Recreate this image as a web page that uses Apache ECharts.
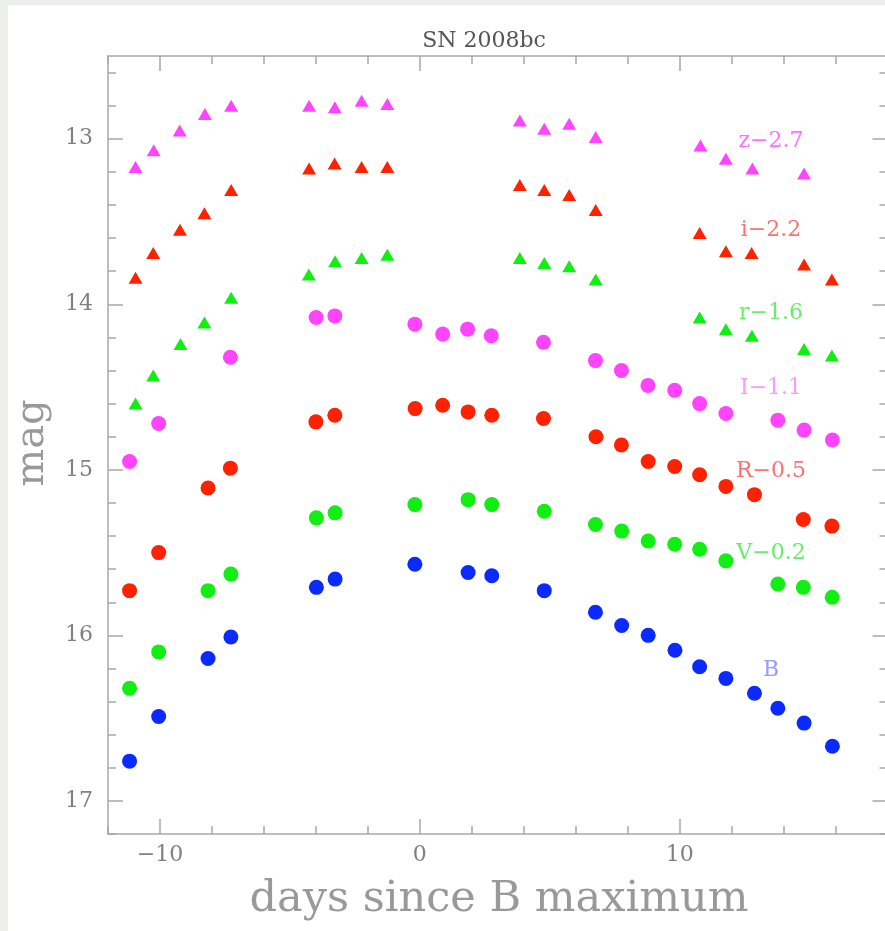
<!DOCTYPE html>
<html>
<head>
<meta charset="utf-8">
<script src="https://cdn.jsdelivr.net/npm/echarts@6/dist/echarts.min.js"></script>
<style>
  html, body { margin: 0; padding: 0; overflow: hidden; background: #eceeea; }
  #panel { position: absolute; left: 8px; top: 5px; width: 900px; height: 940px; background: #ffffff; }
  #chart { position: absolute; left: 0; top: 0; width: 890px; height: 931px; }
</style>
</head>
<body>
<div id="panel"></div>
<div id="chart"></div>
<script>
// ---- data (days since B maximum, magnitudes) ----
const bDays = [-11.17, -10.05, -8.15, -7.27, -3.98, -3.26, -0.19, 1.86, 2.77, 4.79, 6.76, 7.77, 8.79, 9.82, 10.77, 11.78, 12.88, 13.78, 14.79, 15.88];
const bMag  = [16.76, 16.49, 16.14, 16.01, 15.71, 15.66, 15.57, 15.62, 15.64, 15.73, 15.86, 15.94, 16.00, 16.09, 16.19, 16.26, 16.35, 16.44, 16.53, 16.67];

const vDays = [-11.17, -10.05, -8.15, -7.27, -3.98, -3.26, -0.19, 1.86, 2.77, 4.79, 6.76, 7.77, 8.79, 9.81, 10.77, 11.78, 13.78, 14.76, 15.87];
const vMag  = [16.32, 16.10, 15.73, 15.63, 15.29, 15.26, 15.21, 15.18, 15.21, 15.25, 15.33, 15.37, 15.43, 15.45, 15.48, 15.55, 15.69, 15.71, 15.77];

const rcDays = [-11.17, -10.05, -8.15, -7.29, -4.0, -3.27, -0.18, 0.88, 1.86, 2.77, 4.76, 6.78, 7.76, 8.79, 9.81, 10.77, 11.78, 12.88, 14.76, 15.86];
const rcMag  = [15.73, 15.50, 15.11, 14.99, 14.71, 14.67, 14.63, 14.61, 14.65, 14.67, 14.69, 14.80, 14.85, 14.95, 14.98, 15.03, 15.10, 15.15, 15.30, 15.34];

const icDays = [-11.17, -10.05, -7.29, -3.99, -3.27, -0.19, 0.88, 1.84, 2.75, 4.76, 6.76, 7.76, 8.78, 9.81, 10.77, 11.78, 13.78, 14.79, 15.88];
const icMag  = [14.95, 14.72, 14.32, 14.08, 14.07, 14.12, 14.18, 14.15, 14.19, 14.23, 14.34, 14.40, 14.49, 14.52, 14.60, 14.66, 14.70, 14.76, 14.82];

const zDays = [-10.94, -10.24, -9.24, -8.27, -7.26, -4.26, -3.27, -2.24, -1.25, 3.85, 4.79, 5.75, 6.77, 10.80, 11.78, 12.80, 14.79];
const zMag  = [13.17, 13.07, 12.95, 12.85, 12.80, 12.80, 12.81, 12.77, 12.79, 12.89, 12.94, 12.91, 12.99, 13.04, 13.12, 13.18, 13.21];

const iDays = [-10.94, -10.26, -9.23, -8.29, -7.26, -4.26, -3.28, -2.24, -1.25, 3.85, 4.79, 5.75, 6.77, 10.77, 11.78, 12.77, 14.79, 15.86];
const iMag  = [13.84, 13.69, 13.55, 13.45, 13.31, 13.18, 13.15, 13.17, 13.17, 13.28, 13.31, 13.34, 13.43, 13.57, 13.68, 13.69, 13.76, 13.85];

const rDays = [-10.94, -10.26, -9.21, -8.29, -7.26, -4.27, -3.26, -2.24, -1.25, 3.85, 4.79, 5.75, 6.77, 10.77, 11.78, 12.78, 14.79, 15.86];
const rMag  = [14.60, 14.43, 14.24, 14.11, 13.96, 13.82, 13.74, 13.72, 13.70, 13.72, 13.75, 13.77, 13.85, 14.08, 14.15, 14.19, 14.27, 14.31];

const xMajorTicks = [-10, 0, 10];
const xMinorTicks = [-12, -8, -6, -4, -2, 2, 4, 6, 8, 12, 14, 16];
const yMajorTicks = [13, 14, 15, 16, 17];
const yMinorTicks = [12.6, 12.8, 13.2, 13.4, 13.6, 13.8, 14.2, 14.4, 14.6, 14.8, 15.2, 15.4, 15.6, 15.8, 16.2, 16.4, 16.6, 16.8, 17.2];

const bandLabels = ['z\u22122.7', 'i\u22122.2', 'r\u22121.6', 'I\u22121.1', 'R\u22120.5', 'V\u22120.2', 'B'];
const titleText = 'SN 2008bc';
const xTitle = 'days since B maximum';
const yTitle = 'mag';

// ---- build ----
const pair = (d, m) => d.map((v, i) => [v, m[i]]);
const X_MIN = -12, X_MAX = 18, Y_MIN = 12.5, Y_MAX = 17.2;
const AX = '#a8a8a8';
const fontFam = '"DejaVu Serif", "Liberation Serif", serif';
const minus = v => (v < 0 ? '\u2212' + Math.abs(v) : String(v));

function xAx(pos, ticks, len, labels, showLine) {
  return {
    type: 'value', position: pos, min: X_MIN, max: X_MAX,
    axisLine: { show: showLine, onZero: false, lineStyle: { color: AX, width: 1.5 } },
    axisTick: { show: true, inside: true, length: len, customValues: ticks, lineStyle: { color: AX, width: 1.5 } },
    axisLabel: labels ? { show: true, customValues: ticks, formatter: minus, color: '#808080', fontFamily: fontFam, fontSize: 22, margin: 10 } : { show: false },
    splitLine: { show: false }
  };
}
function yAx(pos, ticks, len, labels, showLine) {
  return {
    type: 'value', position: pos, min: Y_MIN, max: Y_MAX, inverse: true,
    axisLine: { show: showLine, onZero: false, lineStyle: { color: AX, width: 1.5 } },
    axisTick: { show: true, inside: true, length: len, customValues: ticks, lineStyle: { color: AX, width: 1.5 } },
    axisLabel: labels ? { show: true, customValues: ticks, color: '#808080', fontFamily: fontFam, fontSize: 22, margin: 15 } : { show: false },
    splitLine: { show: false }
  };
}

function circ(name, data, color) {
  return { name, type: 'scatter', data, symbol: 'circle', symbolSize: 15, itemStyle: { color, opacity: 1 }, xAxisIndex: 0, yAxisIndex: 0 };
}
function tri(name, data, color) {
  return { name, type: 'scatter', data, symbol: 'triangle', symbolSize: [14, 12], itemStyle: { color, opacity: 1 }, xAxisIndex: 0, yAxisIndex: 0 };
}

const MAG = '#ff44ff', RED = '#ff2200', GRN = '#11ee11', BLU = '#0a2aff';
const labelColors = ['#ff70ff', '#ff7070', '#66f066', '#ff99ff', '#ff7070', '#66ee66', '#9a9aff'];
const labelY = [141, 230, 313, 388, 471, 553, 670];

const chart = echarts.init(document.getElementById('chart'), null, { renderer: 'canvas' });
chart.setOption({
  backgroundColor: 'transparent',
  animation: false,
  grid: { left: 108, right: 2.5, top: 56, bottom: 97, containLabel: false },
  xAxis: [
    xAx('bottom', xMajorTicks, 15, true, true),
    xAx('bottom', xMinorTicks, 8, false, false),
    xAx('top', xMajorTicks, 15, false, true),
    xAx('top', xMinorTicks, 8, false, false)
  ],
  yAxis: [
    yAx('left', yMajorTicks, 15, true, true),
    yAx('left', yMinorTicks, 8, false, false),
    yAx('right', yMajorTicks, 15, false, true),
    yAx('right', yMinorTicks, 8, false, false)
  ],
  series: [
    tri('z-2.7', pair(zDays, zMag), MAG),
    tri('i-2.2', pair(iDays, iMag), RED),
    tri('r-1.6', pair(rDays, rMag), GRN),
    circ('I-1.1', pair(icDays, icMag), MAG),
    circ('R-0.5', pair(rcDays, rcMag), RED),
    circ('V-0.2', pair(vDays, vMag), GRN),
    circ('B', pair(bDays, bMag), BLU)
  ],
  graphic: [
    { type: 'text', x: 484, y: 41, style: { text: titleText, fill: '#555', font: '22px ' + fontFam, textAlign: 'center', textVerticalAlign: 'middle' } },
    { type: 'text', x: 499, y: 900, style: { text: xTitle, fill: '#999', font: '43px ' + fontFam, textAlign: 'center', textVerticalAlign: 'middle' } },
    { type: 'text', x: 33, y: 443, rotation: Math.PI / 2, style: { text: yTitle, fill: '#999', font: '40px ' + fontFam, textAlign: 'center', textVerticalAlign: 'middle' } }
  ].concat(bandLabels.map((t, i) => ({
    type: 'text', x: 771, y: labelY[i],
    style: { text: t, fill: labelColors[i], font: '22px ' + fontFam, textAlign: 'center', textVerticalAlign: 'middle' }
  })))
});
</script>
</body>
</html>
